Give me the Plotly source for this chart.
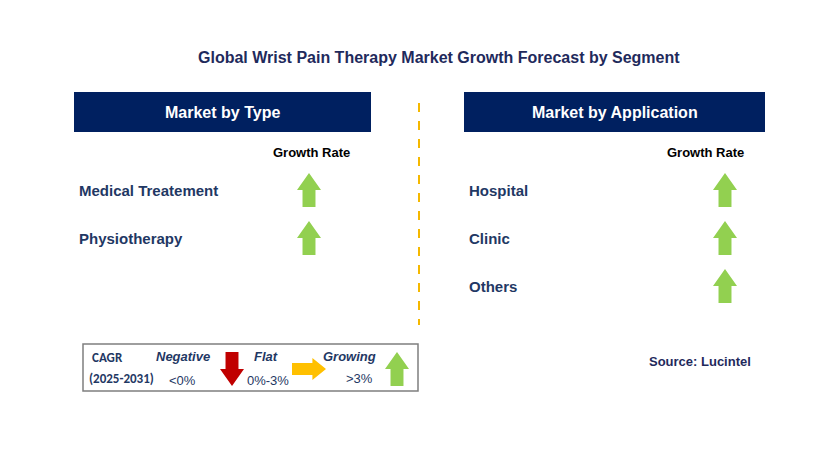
import plotly.graph_objects as go

title = "Global Wrist Pain Therapy Market Growth Forecast by Segment"
type_items = ["Medical Treatement", "Physiotherapy"]
app_items = ["Hospital", "Clinic", "Others"]
type_trend = ["up", "up"]
app_trend = ["up", "up", "up"]

NAVY = "#002060"
GREEN = "#92D050"
fig = go.Figure()
shapes, ann = [], []

def up_arrow(cx, cy, w=24, h=34, color=GREEN):
    t, b = cy - h/2, cy + h/2
    hb = t + h*0.5
    sw = w*0.27
    p = f"M{cx},{t} L{cx+w/2},{hb} L{cx+sw},{hb} L{cx+sw},{b} L{cx-sw},{b} L{cx-sw},{hb} L{cx-w/2},{hb} Z"
    shapes.append(dict(type="path", path=p, fillcolor=color, line=dict(width=0)))

def down_arrow(cx, cy, w=24, h=34, color="#C00000"):
    t, b = cy - h/2, cy + h/2
    hb = b - h*0.5
    sw = w*0.27
    p = f"M{cx},{b} L{cx+w/2},{hb} L{cx+sw},{hb} L{cx+sw},{t} L{cx-sw},{t} L{cx-sw},{hb} L{cx-w/2},{hb} Z"
    shapes.append(dict(type="path", path=p, fillcolor=color, line=dict(width=0)))

def right_arrow(cx, cy, w=34, h=22, color="#FFC000"):
    l, r = cx - w/2, cx + w/2
    hb = r - w*0.4
    sh = h*0.27
    p = f"M{r},{cy} L{hb},{cy-h/2} L{hb},{cy-sh} L{l},{cy-sh} L{l},{cy+sh} L{hb},{cy+sh} L{hb},{cy+h/2} Z"
    shapes.append(dict(type="path", path=p, fillcolor=color, line=dict(width=0)))

def txt(x, y, s, size=13, color="#1F3864", bold=True, anchor="left", italic=False, font="Arial"):
    if bold: s = f"<b>{s}</b>"
    if italic: s = f"<i>{s}</i>"
    ann.append(dict(x=x, y=y, text=s, showarrow=False, xanchor=anchor, yanchor="middle",
                    font=dict(size=size, color=color, family=font)))

txt(439, 57, title, 16, "#1F2A5C", anchor="center")
for x0, x1, label in [(74, 371, "Market by Type"), (464, 765, "Market by Application")]:
    shapes.append(dict(type="rect", x0=x0, x1=x1, y0=92, y1=132, fillcolor=NAVY, line=dict(width=0)))
    txt((x0+x1)/2, 112, label, 16, "white", anchor="center")
    txt(x1-60, 152, "Growth Rate", 13, "black", anchor="center")
shapes.append(dict(type="line", x0=419, x1=419, y0=103, y1=325, line=dict(color="#F5B800", width=2, dash="dash")))

for i, (n, t) in enumerate(zip(type_items, type_trend)):
    y = 190 + 48*i
    txt(77, y, n, 15)
    up_arrow(309, y)
for i, (n, t) in enumerate(zip(app_items, app_trend)):
    y = 190 + 48*i
    txt(467, y, n, 15)
    up_arrow(725, y)

shapes.append(dict(type="rect", x0=83, x1=418, y0=344, y1=391, line=dict(color="#7F7F7F", width=1.5), fillcolor="white"))
txt(90, 357, "CAGR", 13, "#1F3864", font="Calibri, Carlito, Arial")
txt(87, 378, "(2025-2031)", 13, "#1F3864", font="Calibri, Carlito, Arial")
txt(183, 356, "Negative", 13, "#1F3864", anchor="center", italic=True)
txt(182, 380, "&lt;0%", 13, "#1F3864", bold=False, anchor="center")
down_arrow(232, 369, 24, 34)
txt(266, 356, "Flat", 13, "#1F3864", anchor="center", italic=True)
txt(268, 380, "0%-3%", 13, "#1F3864", bold=False, anchor="center")
right_arrow(309, 369, 34, 22)
txt(349, 356, "Growing", 13, "#1F3864", anchor="center", italic=True)
txt(359, 378, "&gt;3%", 13, "#1F3864", bold=False, anchor="center")
up_arrow(397, 369, 24, 34)

txt(700, 361, "Source: Lucintel", 13, "#1F2A5C", anchor="center")

fig.update_layout(width=829, height=465, margin=dict(l=0, r=0, t=0, b=0),
                  plot_bgcolor="white", paper_bgcolor="white", shapes=shapes, annotations=ann,
                  xaxis=dict(range=[8, 837], visible=False), yaxis=dict(range=[473, 8], visible=False),
                  showlegend=False)
fig.write_html("out.html")
